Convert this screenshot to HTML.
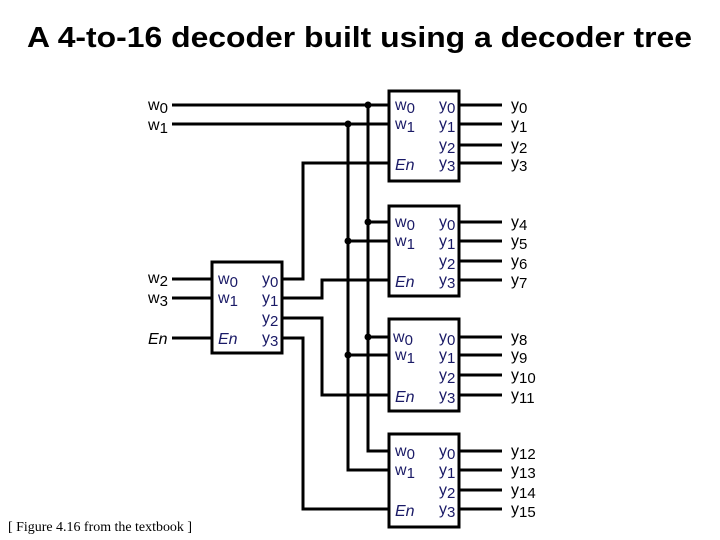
<!DOCTYPE html>
<html><head><meta charset="utf-8"><style>
html,body{margin:0;padding:0;background:#fff;}
svg{display:block;}
</style></head><body>
<svg width="720" height="540" viewBox="0 0 720 540" xmlns="http://www.w3.org/2000/svg" font-family="Liberation Sans, sans-serif">
<rect width="720" height="540" fill="#fff"/>
<text x="27" y="47" font-size="29" font-weight="bold" textLength="665" lengthAdjust="spacingAndGlyphs">A 4-to-16 decoder built using a decoder tree</text>
<text x="8" y="531" font-family="Liberation Serif, serif" font-size="14" textLength="184" lengthAdjust="spacingAndGlyphs">[ Figure 4.16 from the textbook ]</text>

<g stroke="#000" stroke-width="3" fill="none">
<rect x="212" y="262" width="70" height="91"/>
<rect x="389" y="91" width="70" height="90"/>
<rect x="389" y="206" width="70" height="90"/>
<rect x="389" y="319" width="70" height="92"/>
<rect x="389" y="434" width="70" height="93"/>
<line x1="172" y1="105" x2="389" y2="105"/>
<line x1="172" y1="124" x2="389" y2="124"/>
<polyline points="368,105 368,451 389,451"/>
<polyline points="348,124 348,470 389,470"/>
<line x1="368" y1="222" x2="389" y2="222"/>
<line x1="348" y1="241" x2="389" y2="241"/>
<line x1="368" y1="337" x2="389" y2="337"/>
<line x1="348" y1="355" x2="389" y2="355"/>
<line x1="172" y1="279" x2="212" y2="279"/>
<line x1="172" y1="298" x2="212" y2="298"/>
<line x1="172" y1="338" x2="212" y2="338"/>
<polyline points="282,279 303,279 303,163 389,163"/>
<polyline points="282,298 322,298 322,280 389,280"/>
<polyline points="282,318 322,318 322,395 389,395"/>
<polyline points="282,338 303,338 303,509 389,509"/>
<path d="M459 105H502M459 124H502M459 145H502M459 163H502
M459 222H502M459 241H502M459 261H502M459 280H502
M459 337H502M459 355H502M459 375H502M459 395H502
M459 451H502M459 470H502M459 490H502M459 509H502"/>
</g>
<g fill="#000">
<circle cx="368" cy="105" r="3.5"/><circle cx="348" cy="124" r="3.5"/>
<circle cx="368" cy="222" r="3.5"/><circle cx="348" cy="241" r="3.5"/>
<circle cx="368" cy="337" r="3.5"/><circle cx="348" cy="355" r="3.5"/>
</g>

<g font-size="16" fill="#000">
<text x="148" y="110">w<tspan font-size="15" dy="3">0</tspan></text>
<text x="148" y="130">w<tspan font-size="15" dy="3">1</tspan></text>
<text x="148" y="283">w<tspan font-size="15" dy="3">2</tspan></text>
<text x="148" y="303">w<tspan font-size="15" dy="3">3</tspan></text>
<text x="148" y="344" font-style="italic">En</text>
</g>

<g font-size="16" fill="#1a1a66">
<text x="218" y="284">w<tspan font-size="15" dy="3">0</tspan></text>
<text x="218" y="303">w<tspan font-size="15" dy="3">1</tspan></text>
<text x="218" y="344" font-style="italic">En</text>
<text x="262" y="284">y<tspan font-size="15" dy="3">0</tspan></text>
<text x="262" y="303">y<tspan font-size="15" dy="3">1</tspan></text>
<text x="262" y="323">y<tspan font-size="15" dy="3">2</tspan></text>
<text x="262" y="343">y<tspan font-size="15" dy="3">3</tspan></text>
</g>

<g font-size="16" fill="#1a1a66">
<text x="395" y="110">w<tspan font-size="15" dy="3">0</tspan></text>
<text x="395" y="129">w<tspan font-size="15" dy="3">1</tspan></text>
<text x="395" y="170" font-style="italic">En</text>
<text x="439" y="110">y<tspan font-size="15" dy="3">0</tspan></text>
<text x="439" y="129">y<tspan font-size="15" dy="3">1</tspan></text>
<text x="439" y="150">y<tspan font-size="15" dy="3">2</tspan></text>
<text x="439" y="168">y<tspan font-size="15" dy="3">3</tspan></text>
<text x="395" y="227">w<tspan font-size="15" dy="3">0</tspan></text>
<text x="395" y="246">w<tspan font-size="15" dy="3">1</tspan></text>
<text x="395" y="287" font-style="italic">En</text>
<text x="439" y="227">y<tspan font-size="15" dy="3">0</tspan></text>
<text x="439" y="246">y<tspan font-size="15" dy="3">1</tspan></text>
<text x="439" y="266">y<tspan font-size="15" dy="3">2</tspan></text>
<text x="439" y="285">y<tspan font-size="15" dy="3">3</tspan></text>
<text x="393" y="342">w<tspan font-size="15" dy="3">0</tspan></text>
<text x="395" y="360">w<tspan font-size="15" dy="3">1</tspan></text>
<text x="395" y="402" font-style="italic">En</text>
<text x="439" y="342">y<tspan font-size="15" dy="3">0</tspan></text>
<text x="439" y="360">y<tspan font-size="15" dy="3">1</tspan></text>
<text x="439" y="380">y<tspan font-size="15" dy="3">2</tspan></text>
<text x="439" y="400">y<tspan font-size="15" dy="3">3</tspan></text>
<text x="395" y="456">w<tspan font-size="15" dy="3">0</tspan></text>
<text x="395" y="475">w<tspan font-size="15" dy="3">1</tspan></text>
<text x="395" y="516" font-style="italic">En</text>
<text x="439" y="456">y<tspan font-size="15" dy="3">0</tspan></text>
<text x="439" y="475">y<tspan font-size="15" dy="3">1</tspan></text>
<text x="439" y="495">y<tspan font-size="15" dy="3">2</tspan></text>
<text x="439" y="514">y<tspan font-size="15" dy="3">3</tspan></text>
</g>

<g font-size="16" fill="#000">
<text x="511" y="110">y<tspan font-size="15" dy="3">0</tspan></text>
<text x="511" y="129">y<tspan font-size="15" dy="3">1</tspan></text>
<text x="511" y="150">y<tspan font-size="15" dy="3">2</tspan></text>
<text x="511" y="168">y<tspan font-size="15" dy="3">3</tspan></text>
<text x="511" y="227">y<tspan font-size="15" dy="3">4</tspan></text>
<text x="511" y="246">y<tspan font-size="15" dy="3">5</tspan></text>
<text x="511" y="266">y<tspan font-size="15" dy="3">6</tspan></text>
<text x="511" y="285">y<tspan font-size="15" dy="3">7</tspan></text>
<text x="511" y="342">y<tspan font-size="15" dy="3">8</tspan></text>
<text x="511" y="360">y<tspan font-size="15" dy="3">9</tspan></text>
<text x="511" y="380">y<tspan font-size="15" dy="3">10</tspan></text>
<text x="511" y="400">y<tspan font-size="15" dy="3">11</tspan></text>
<text x="511" y="456">y<tspan font-size="15" dy="3">12</tspan></text>
<text x="511" y="475">y<tspan font-size="15" dy="3">13</tspan></text>
<text x="511" y="495">y<tspan font-size="15" dy="3">14</tspan></text>
<text x="511" y="514">y<tspan font-size="15" dy="3">15</tspan></text>
</g>
</svg>
</body></html>
